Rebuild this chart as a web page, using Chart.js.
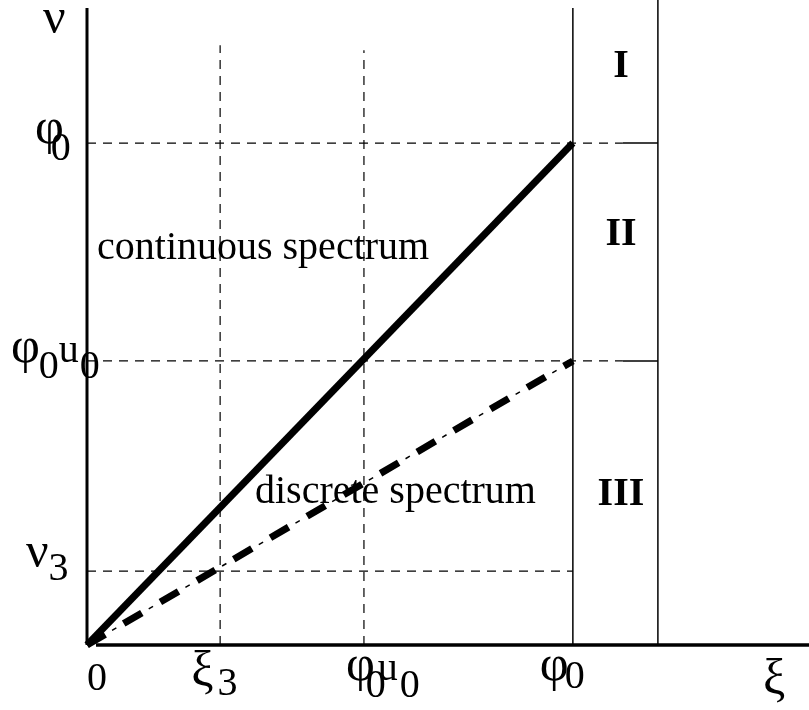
<!DOCTYPE html>
<html>
<head>
<meta charset="utf-8">
<script src="https://cdn.jsdelivr.net/npm/chart.js@4"></script>
<style>
  html, body { margin: 0; padding: 0; background: #fff; }
  #wrap { width: 809px; height: 710px; }
</style>
</head>
<body>
<div id="wrap"><canvas id="spektrumChart" width="809" height="710"></canvas></div>
<script>
// values in units of phi0 (phi0 = 1)
const phi0 = 1;
const u0 = 0.566;
const xi3 = 0.274;
const nu3 = 0.147;
const xEdge = 1.175;
const xMax = 1.486;
const yMax = 1.285;

const xTickValues = [0, xi3, 0.570, phi0];
const xTickLabels = ['0', 'ξ_3', 'φ_0u_0', 'φ_0'];
const yTickValues = [nu3, u0, phi0];
const yTickLabels = ['ν_3', 'φ_0u_0', 'φ_0'];

const continuousLine = [{ x: 0, y: 0 }, { x: phi0, y: phi0 }];
const discreteLine = [{ x: 0, y: 0 }, { x: phi0, y: u0 }];

const regionNames = ['I', 'II', 'III'];
const regionLevels = [1.131, 0.797, 0.279];

const FONT = '"Liberation Serif", "Times New Roman", serif';

function seg(x1, y1, x2, y2, width, dash) {
  return {
    data: [{ x: x1, y: y1 }, { x: x2, y: y2 }],
    showLine: true,
    pointRadius: 0,
    borderColor: '#000',
    borderWidth: width,
    borderDash: dash || [],
    borderCapStyle: 'butt',
    clip: false
  };
}

const guideDash = [9, 7];
const datasets = [
  // axes
  seg(0, 0, 0, 1.269, 3),
  seg(0.0185, 0, xMax, 0, 3.5),
  // region borders
  seg(phi0, 0, phi0, 1.269, 1.5),
  seg(xEdge, 0, xEdge, yMax, 1.5),
  seg(1.103, phi0, xEdge, phi0, 1.5),
  seg(1.103, u0, xEdge, u0, 1.5),
  // dashed guides
  seg(xTickValues[1], 0, xTickValues[1], 1.195, 1.2, guideDash),
  seg(xTickValues[2], 0, xTickValues[2], 1.185, 1.2, guideDash),
  seg(0, yTickValues[2], 1.103, yTickValues[2], 1.2, guideDash),
  seg(0, yTickValues[1], 1.103, yTickValues[1], 1.2, guideDash),
  seg(0, yTickValues[0], phi0, yTickValues[0], 1.2, guideDash)
];

datasets.push(Object.assign({}, seg(0, 0, 0, 0, 7), { data: continuousLine }));
datasets.push(Object.assign({}, seg(0, 0, 0, 0, 7, [21, 21.5]), { data: discreteLine }));
datasets.push(Object.assign({}, seg(0, 0, 0, 0, 1.5, [5, 37.5]), { data: discreteLine, borderDashOffset: 13.5 }));

const isGreek = s => /[\u0370-\u03ff]/.test(s);

// draws "a_0b_0" style labels, char after "_" is a lowered subscript
function drawMath(ctx, label, left, base, subDy, gaps) {
  const parts = label.split('_');
  const pieces = [{ t: parts[0], sub: false }];
  for (let i = 1; i < parts.length; i++) {
    pieces.push({ t: parts[i][0], sub: true });
    if (parts[i].length > 1) pieces.push({ t: parts[i].slice(1), sub: false });
  }
  let x = left;
  pieces.forEach((p, i) => {
    if (!p.t) return;
    ctx.font = (isGreek(p.t) ? '50px ' : '40px ') + FONT;
    ctx.fillText(p.t, x, base + (p.sub ? subDy : 0));
    x += ctx.measureText(p.t).width + (gaps[i] || 0);
  });
}

const textPlugin = {
  id: 'mathText',
  afterDraw(chart) {
    const ctx = chart.ctx;
    const xs = chart.scales.x;
    const ys = chart.scales.y;
    ctx.save();
    ctx.fillStyle = '#000';
    ctx.textAlign = 'left';
    ctx.textBaseline = 'alphabetic';

    // axis names
    drawMath(ctx, 'ν', 43, 33, 0, []);
    drawMath(ctx, 'ξ', 763, 694, 0, []);

    // x tick labels
    const xStyle = [
      { dx: 0, base: 690, subDy: 0, gaps: [] },
      { dx: -29, base: 686, subDy: 9, gaps: [4] },
      { dx: -18, base: 680, subDy: 17, gaps: [-9, -8, 2] },
      { dx: -33, base: 680, subDy: 8, gaps: [-4] }
    ];
    xTickValues.forEach((v, i) => {
      const s = xStyle[i];
      drawMath(ctx, xTickLabels[i], xs.getPixelForValue(v) + s.dx, s.base, s.subDy, s.gaps);
    });

    // y tick labels
    const yStyle = [
      { left: 26, dy: -4, subDy: 13, gaps: [0] },
      { left: 11, dy: 1, subDy: 16, gaps: [-1, 0, 1] },
      { left: 35, dy: 0, subDy: 17, gaps: [-13] }
    ];
    yTickValues.forEach((v, i) => {
      const s = yStyle[i];
      drawMath(ctx, yTickLabels[i], s.left, ys.getPixelForValue(v) + s.dy, s.subDy, s.gaps);
    });

    // spectrum labels
    ctx.font = '40px ' + FONT;
    ctx.fillText('continuous spectrum', xs.getPixelForValue(0.0206), ys.getPixelForValue(0.769));
    ctx.fillText('discrete spectrum', xs.getPixelForValue(0.3457), ys.getPixelForValue(0.283));

    // region numerals
    ctx.font = 'bold 40px ' + FONT;
    ctx.textAlign = 'center';
    regionNames.forEach((name, i) => {
      ctx.fillText(name, xs.getPixelForValue(1.099), ys.getPixelForValue(regionLevels[i]));
    });
    ctx.restore();
  }
};

const ctx = document.getElementById('spektrumChart').getContext('2d');
new Chart(ctx, {
  type: 'scatter',
  data: { datasets: datasets },
  options: {
    responsive: false,
    animation: false,
    layout: { padding: { left: 87, right: 0, top: 0, bottom: 65 } },
    plugins: {
      legend: { display: false },
      tooltip: { enabled: false }
    },
    scales: {
      x: { type: 'linear', min: 0, max: xMax, display: false },
      y: { type: 'linear', min: 0, max: yMax, display: false }
    }
  },
  plugins: [textPlugin]
});
</script>
</body>
</html>
